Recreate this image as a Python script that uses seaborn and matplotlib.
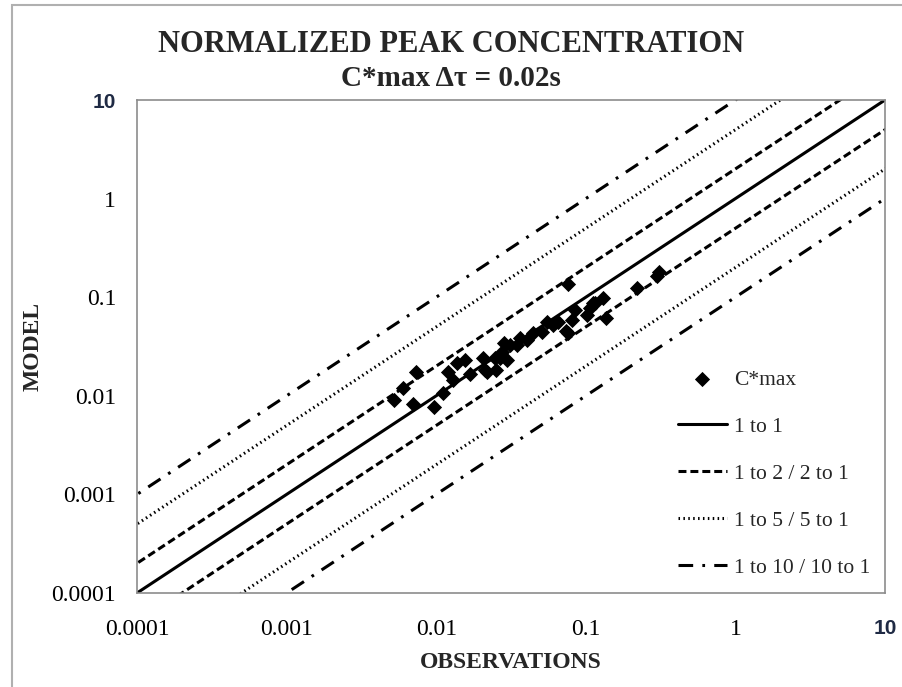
import matplotlib
matplotlib.use("Agg")
import matplotlib.pyplot as plt
import numpy as np
import pandas as pd
import seaborn as sns
from matplotlib.patches import Rectangle

obs = [0.0052, 0.0060, 0.0073, 0.0070, 0.0097, 0.0111, 0.0120, 0.0129, 0.0138,
       0.0156, 0.0168, 0.0206, 0.0212, 0.0219, 0.0251, 0.0247, 0.0266, 0.0275,
       0.0284, 0.0297, 0.0311, 0.0347, 0.0363, 0.0404, 0.0444, 0.0509, 0.0551,
       0.0604, 0.0652, 0.0740, 0.0760, 0.0809, 0.0847, 0.102, 0.107, 0.111,
       0.115, 0.130, 0.136, 0.0760, 0.220, 0.300, 0.310]
model = [0.0091, 0.0120, 0.0174, 0.0083, 0.0077, 0.0107, 0.0174, 0.0145, 0.0215,
         0.0231, 0.0166, 0.0241, 0.0183, 0.0174, 0.0183, 0.0241, 0.0241, 0.0278,
         0.0343, 0.0231, 0.0327, 0.0327, 0.0385, 0.0368, 0.0434, 0.0444, 0.0560,
         0.0522, 0.0560, 0.0450, 0.0434, 0.0587, 0.0741, 0.0659, 0.0776, 0.0880,
         0.0873, 0.0982, 0.0615, 0.136, 0.124, 0.165, 0.180]

ratios = [1, 2, 5, 10]
ratio_labels = ["1 to 1", "1 to 2 / 2 to 1", "1 to 5 / 5 to 1", "1 to 10 / 10 to 1"]
ticks = [0.0001, 0.001, 0.01, 0.1, 1, 10]
tick_labels = ["0.0001", "0.001", "0.01", "0.1", "1", "10"]

styles = {
    1: "-",
    2: (0, (2.6, 1.3)),
    5: (0, (0.5, 1.1)),
    10: (0, (4.8, 3.0, 0.9, 3.0)),
}

sns.set_theme(style="white")
plt.rcParams["font.family"] = ["Liberation Serif", "DejaVu Serif"]

fig = plt.figure(figsize=(9.02, 6.87), dpi=100)
ax = fig.add_axes([137 / 902, 94 / 687, 748 / 902, 493 / 687])

df = pd.DataFrame({"obs": obs, "model": model})
sns.scatterplot(data=df, x="obs", y="model", marker="D", color="black",
                s=60, edgecolor="black", linewidth=0, ax=ax, label="C*max", zorder=5)

xs = np.array([1e-5, 1e3])
for r, lab in zip(ratios, ratio_labels):
    ax.plot(xs, xs * r, color="black", lw=2.2, linestyle=styles[r],
            dash_capstyle="butt", label=lab)
    if r != 1:
        ax.plot(xs, xs / r, color="black", lw=2.2, linestyle=styles[r],
                dash_capstyle="butt")

ax.set_xscale("log")
ax.set_yscale("log")
ax.set_xlim(1e-4, 10)
ax.set_ylim(1e-4, 10)
ax.set_xticks(ticks)
ax.set_yticks(ticks)
ax.set_xticklabels(tick_labels)
ax.set_yticklabels(tick_labels)
ax.minorticks_off()
ax.tick_params(axis="both", which="major", length=7, width=1, direction="out",
               labelsize=17, colors="#888888", labelcolor="black")
ax.tick_params(axis="x", pad=12)
ax.tick_params(axis="y", pad=8)
for lbl in [ax.get_xticklabels()[-1], ax.get_yticklabels()[-1]]:
    lbl.set_fontfamily("Liberation Sans")
    lbl.set_fontweight("bold")
    lbl.set_color("#1f2a44")
    lbl.set_fontsize(15)

for s in ax.spines.values():
    s.set_color("#8c8c8c")
    s.set_linewidth(1.2)

ax.set_xlabel("OBSERVATIONS", fontsize=17, fontweight="bold", labelpad=8)
ax.set_ylabel("MODEL", fontsize=17, fontweight="bold", labelpad=6)

fig.text(0.5, 1 - 45 / 687, "NORMALIZED PEAK CONCENTRATION", ha="center",
         va="center", fontsize=22, fontweight="bold")
fig.text(0.5, 1 - 79 / 687, "C*max \u0394\u03c4 = 0.02s", ha="center",
         va="center", fontsize=21, fontweight="bold")

ax.legend(loc="lower right", bbox_to_anchor=(1.0, 0.0), frameon=False,
          fontsize=15.5, handlelength=2.3, handletextpad=0.3,
          labelspacing=1.25, borderaxespad=0.3)

fig.patches.append(Rectangle((12 / 902, -0.01), 1.0, 1 - 5 / 687 + 0.01,
                             transform=fig.transFigure, fill=False,
                             edgecolor="#b0b0b0", lw=1.5))

fig.savefig("out.png", dpi=100)
